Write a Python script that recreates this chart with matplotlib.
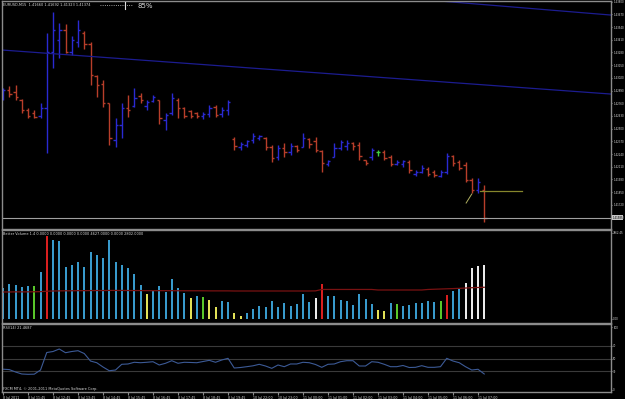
import numpy as np
import matplotlib.pyplot as plt
from matplotlib.lines import Line2D

# EURUSD M15 bars (open / high / low / close)
opens = [1.42813, 1.42895, 1.42875, 1.42793, 1.42691, 1.42660, 1.42629, 1.42711, 1.43285, 1.43407,
         1.43510, 1.43285, 1.43387, 1.43479, 1.43366, 1.43039, 1.42957, 1.42762, 1.42383, 1.42537,
         1.42711, 1.42732, 1.42834, 1.42732, 1.42783, 1.42793, 1.42588, 1.42660, 1.42793, 1.42711,
         1.42680, 1.42660, 1.42629, 1.42650, 1.42721, 1.42650, 1.42691, 1.42394, 1.42312, 1.42332,
         1.42383, 1.42404, 1.42404, 1.42312, 1.42209, 1.42302, 1.42261, 1.42322, 1.42312, 1.42394,
         1.42373, 1.42271, 1.42138, 1.42209, 1.42302, 1.42322, 1.42353, 1.42332, 1.42179, 1.42209,
         1.42261, 1.42261, 1.42209, 1.42138, 1.42138, 1.42158, 1.42035, 1.42056, 1.42086, 1.42056,
         1.42015, 1.42056, 1.42220, 1.42158, 1.42127, 1.41974, 1.41871, 1.41871]
highs = [1.42916, 1.42936, 1.42947, 1.42803, 1.42711, 1.42691, 1.42762, 1.43479, 1.43694, 1.43581,
         1.43571, 1.43448, 1.43612, 1.43499, 1.43387, 1.43049, 1.42998, 1.42762, 1.42609, 1.42762,
         1.42844, 1.42916, 1.42865, 1.42793, 1.42844, 1.42793, 1.42660, 1.42865, 1.42813, 1.42721,
         1.42691, 1.42670, 1.42670, 1.42742, 1.42742, 1.42721, 1.42793, 1.42414, 1.42363, 1.42383,
         1.42455, 1.42435, 1.42414, 1.42332, 1.42332, 1.42353, 1.42353, 1.42332, 1.42455, 1.42404,
         1.42414, 1.42281, 1.42179, 1.42353, 1.42383, 1.42383, 1.42363, 1.42363, 1.42179, 1.42302,
         1.42281, 1.42281, 1.42230, 1.42179, 1.42179, 1.42179, 1.42076, 1.42127, 1.42107, 1.42076,
         1.42076, 1.42250, 1.42230, 1.42179, 1.42158, 1.41994, 1.41994, 1.41923]
lows = [1.42793, 1.42824, 1.42793, 1.42660, 1.42609, 1.42609, 1.42609, 1.42250, 1.43121, 1.43223,
        1.43274, 1.43254, 1.43336, 1.43315, 1.42947, 1.42824, 1.42721, 1.42332, 1.42312, 1.42404,
        1.42619, 1.42721, 1.42762, 1.42691, 1.42773, 1.42547, 1.42486, 1.42639, 1.42609, 1.42609,
        1.42609, 1.42609, 1.42598, 1.42619, 1.42619, 1.42619, 1.42639, 1.42281, 1.42281, 1.42312,
        1.42353, 1.42383, 1.42281, 1.42158, 1.42179, 1.42209, 1.42230, 1.42261, 1.42312, 1.42302,
        1.42261, 1.42056, 1.42117, 1.42209, 1.42281, 1.42281, 1.42281, 1.42179, 1.42127, 1.42179,
        1.42220, 1.42179, 1.42117, 1.42127, 1.42107, 1.42045, 1.42015, 1.42045, 1.42015, 1.42005,
        1.42005, 1.42035, 1.42117, 1.42076, 1.41953, 1.41841, 1.41841, 1.41544]
closes = [1.42895, 1.42854, 1.42824, 1.42691, 1.42629, 1.42619, 1.42711, 1.43285, 1.43510, 1.43510,
          1.43285, 1.43407, 1.43510, 1.43366, 1.43049, 1.42947, 1.42762, 1.42404, 1.42537, 1.42711,
          1.42691, 1.42813, 1.42793, 1.42773, 1.42824, 1.42609, 1.42639, 1.42813, 1.42711, 1.42629,
          1.42629, 1.42629, 1.42650, 1.42711, 1.42639, 1.42691, 1.42773, 1.42322, 1.42342, 1.42373,
          1.42424, 1.42424, 1.42312, 1.42199, 1.42302, 1.42261, 1.42322, 1.42281, 1.42404, 1.42342,
          1.42281, 1.42148, 1.42168, 1.42302, 1.42363, 1.42353, 1.42322, 1.42220, 1.42148, 1.42281,
          1.42261, 1.42199, 1.42138, 1.42158, 1.42168, 1.42076, 1.42056, 1.42097, 1.42035, 1.42025,
          1.42056, 1.42220, 1.42148, 1.42097, 1.41974, 1.41871, 1.41953, 1.41585]

# trend lines drawn on the chart (bar index, price)
chan_low_x = [-0.16, 97.28]
chan_low_y = [1.43305, 1.42854]
chan_high_x = [60, 97.28]
chan_high_y = [1.43859, 1.43663]
order_x = [76.3, 83.0]
order_y = [1.41861, 1.41861]
fib_x = [74.1, 75.0]
fib_y = [1.41738, 1.41830]

# Better Volume
volume = [2861, 3199, 3080, 2897, 3016, 3016, 4323, 7586, 7221, 7157,
          4780, 4908, 5237, 4753, 6151, 5850, 5603, 7221, 5237, 4936,
          4689, 4086, 3108, 2258, 2587, 2989, 2495, 3656, 2861, 2376,
          1892, 2102, 2038, 1709, 1124, 1645, 1526, 576, 302, 521,
          914, 1216, 1124, 1645, 1124, 1435, 1188, 1371, 2258, 1581,
          1947, 3172, 2102, 2130, 1737, 1673, 1280, 2285, 1828, 1398,
          823, 731, 1435, 1371, 1216, 1280, 1435, 1490, 1645, 1581,
          1645, 2194, 2587, 2715, 3263, 4689, 4872, 4936]
vol_type = ['n', 'n', 'n', 'n', 'n', 'churn', 'n', 'climax', 'n', 'n',
            'n', 'n', 'n', 'n', 'n', 'n', 'n', 'n', 'n', 'n',
            'n', 'n', 'n', 'low', 'n', 'n', 'n', 'n', 'n', 'n',
            'low', 'n', 'churn', 'low', 'low', 'n', 'n', 'low', 'low', 'n',
            'n', 'n', 'n', 'n', 'n', 'n', 'n', 'n', 'n', 'n',
            'climax_dn', 'climax', 'n', 'n', 'n', 'n', 'n', 'n', 'n', 'n',
            'low', 'low', 'n', 'churn', 'n', 'n', 'n', 'n', 'n', 'n',
            'churn', 'climax', 'n', 'n', 'climax_dn', 'climax_dn', 'climax_dn', 'climax_dn']
vol_ma = [2470, 2470, 2480, 2480, 2480, 2490, 2500, 2540, 2560, 2570,
          2580, 2580, 2590, 2590, 2600, 2600, 2600, 2610, 2610, 2610,
          2600, 2600, 2600, 2590, 2590, 2590, 2590, 2590, 2580, 2580,
          2580, 2580, 2580, 2570, 2570, 2570, 2570, 2560, 2560, 2560,
          2560, 2560, 2560, 2560, 2560, 2560, 2560, 2560, 2560, 2560,
          2570, 2700, 2700, 2700, 2700, 2700, 2700, 2700, 2700, 2700,
          2650, 2650, 2650, 2650, 2650, 2650, 2650, 2650, 2700, 2720,
          2740, 2760, 2780, 2800, 2830, 2860, 2880, 2900]

# RSI(14)
rsi = [33.0, 32.4, 28.6, 25.4, 24.9, 25.1, 31.7, 59.5, 61.1, 65.1,
       59.2, 61.1, 62.4, 57.9, 46.0, 43.3, 36.5, 30.6, 31.7, 40.8,
       41.3, 44.0, 43.3, 44.0, 44.9, 39.7, 42.4, 46.5, 42.4, 44.0,
       43.7, 43.3, 45.2, 47.1, 44.0, 47.6, 50.3, 34.9, 35.7, 37.0,
       38.4, 40.8, 38.1, 34.4, 39.7, 37.0, 41.3, 41.3, 44.0, 43.3,
       40.5, 36.0, 40.8, 41.3, 44.9, 46.5, 46.5, 38.1, 38.1, 44.9,
       44.0, 40.8, 37.0, 37.0, 38.9, 35.7, 36.0, 38.6, 36.0, 36.0,
       37.0, 50.3, 46.0, 43.3, 37.0, 31.7, 32.9, 25.4]
rsi_levels = [70, 50, 30]

time_labels = ['8 Jul 2011', '8 Jul 11:45', '8 Jul 12:45', '8 Jul 13:45', '8 Jul 14:45',
               '8 Jul 15:45', '8 Jul 16:45', '8 Jul 17:45', '8 Jul 18:45', '8 Jul 19:45',
               '10 Jul 22:00', '10 Jul 23:00', '11 Jul 00:00', '11 Jul 01:00', '11 Jul 02:00',
               '11 Jul 03:00', '11 Jul 04:00', '11 Jul 05:00', '11 Jul 06:00', '11 Jul 07:00']

W, H = 625, 399
GRID = '#8c8c8c'
TXT = '#dcdcdc'
vol_colors = {'n': '#3a9fd2', 'low': '#e8e85a', 'climax': '#e02020',
              'climax_dn': '#f2f2f2', 'churn': '#5ccc2c'}

fig = plt.figure(figsize=(W / 100, H / 100), dpi=100, facecolor='black')


def panel(top, bottom):
    ax = fig.add_axes([2 / W, 1 - bottom / H, 609 / W, (bottom - top) / H], facecolor='black')
    for s in ax.spines.values():
        s.set_color(GRID)
        s.set_linewidth(1.0)
    ax.set_xlim(-0.16, 97.28)
    ax.yaxis.tick_right()
    ax.tick_params(axis='y', colors=GRID, labelcolor=TXT, labelsize=1.9, length=1, pad=0.6)
    ax.tick_params(axis='x', bottom=False, labelbottom=False)
    return ax


x = np.arange(len(opens))

# ---- price panel ----
ax = panel(1, 229)
bar_col = ['#2a2ad2' if c > o else '#b83e2a' if c < o else '#40d040' for o, c in zip(opens, closes)]
ax.vlines(x, lows, highs, colors=bar_col, lw=1.0)
ax.hlines(opens, x - 0.38, x, colors=bar_col, lw=1.0)
ax.hlines(closes, x, x + 0.38, colors=bar_col, lw=1.0)
ax.plot(chan_low_x, chan_low_y, color='#1c1c90', lw=0.9)
ax.plot(chan_high_x, chan_high_y, color='#1c1c90', lw=0.9)
ax.plot(order_x, order_y, color='#86862c', lw=0.9)
ax.plot(fib_x, fib_y, color='#b0b060', lw=0.7)
ax.axhline(closes[-1], color='#a0a0a0', lw=0.8)
ax.set_ylim(1.41472, 1.43807)
pticks = [1.43800 - 0.0013 * k for k in range(18)]
ax.set_yticks(pticks)
ax.set_yticklabels([f'{p:.5f}' for p in pticks])
ax.text(1.002, closes[-1], f'{closes[-1]:.5f}', transform=ax.get_yaxis_transform(),
        fontsize=1.9, color='black', va='center', ha='left',
        bbox=dict(boxstyle='square,pad=0.2', fc='#c8c8c8', ec='none'))

# ---- volume panel ----
axv = panel(230, 323)
axv.vlines(x, 0, volume, colors=[vol_colors[t] for t in vol_type], lw=1.4)
axv.plot(x, vol_ma, color='#7a1212', lw=0.9)
axv.set_ylim(-366, 8135)
axv.set_yticks([7862.45, 0])
axv.set_yticklabels(['7862.45', '0.00'])

# ---- RSI panel ----
axr = panel(324, 392)
for lv in rsi_levels:
    axr.axhline(lv, color='#3a3a3a', lw=0.8)
axr.plot(x, rsi, color='#3c5a96', lw=0.8)
axr.set_ylim(-3.2, 104.8)
axr.set_yticks([100, 70, 50, 30, 0])
axr.set_yticklabels(['100', '70', '50', '30', '0'])
axr.set_xticks(np.arange(0, 4 * len(time_labels), 4))
axr.set_xticklabels(time_labels)
axr.tick_params(axis='x', bottom=True, labelbottom=True, colors=GRID, labelcolor=TXT,
                labelsize=2.3, length=2, pad=1)
for lbl in axr.get_xticklabels():
    lbl.set_ha('left')

# ---- overlay texts ----
def ftext(px, py, s, size=2.5, **kw):
    fig.text(px / W, 1 - py / H, s, fontsize=size, color=TXT, va='center', ha='left', **kw)


ftext(3, 5, 'EURUSD,M15  1.41660 1.41692 1.41323 1.41374')
ftext(137, 6, '85%', size=5)
fig.add_artist(Line2D([100 / W, 132 / W], [1 - 5 / H, 1 - 5 / H], color='#d0d0d0', lw=0.6, ls=':'))
fig.add_artist(Line2D([125 / W, 125 / W], [1 - 2 / H, 1 - 9 / H], color='#e0e0e0', lw=0.8))
ftext(3, 234, 'Better Volume 1.4 0.0000 0.0000 0.0000 0.0000 4627.0000 0.0000 2802.0000')
ftext(3, 328, 'RSI(14) 21.4687')
ftext(3, 389, 'FXCM MT4, \u00a9 2001-2011 MetaQuotes Software Corp.')

fig.savefig('out.png', dpi=100, facecolor='black')
